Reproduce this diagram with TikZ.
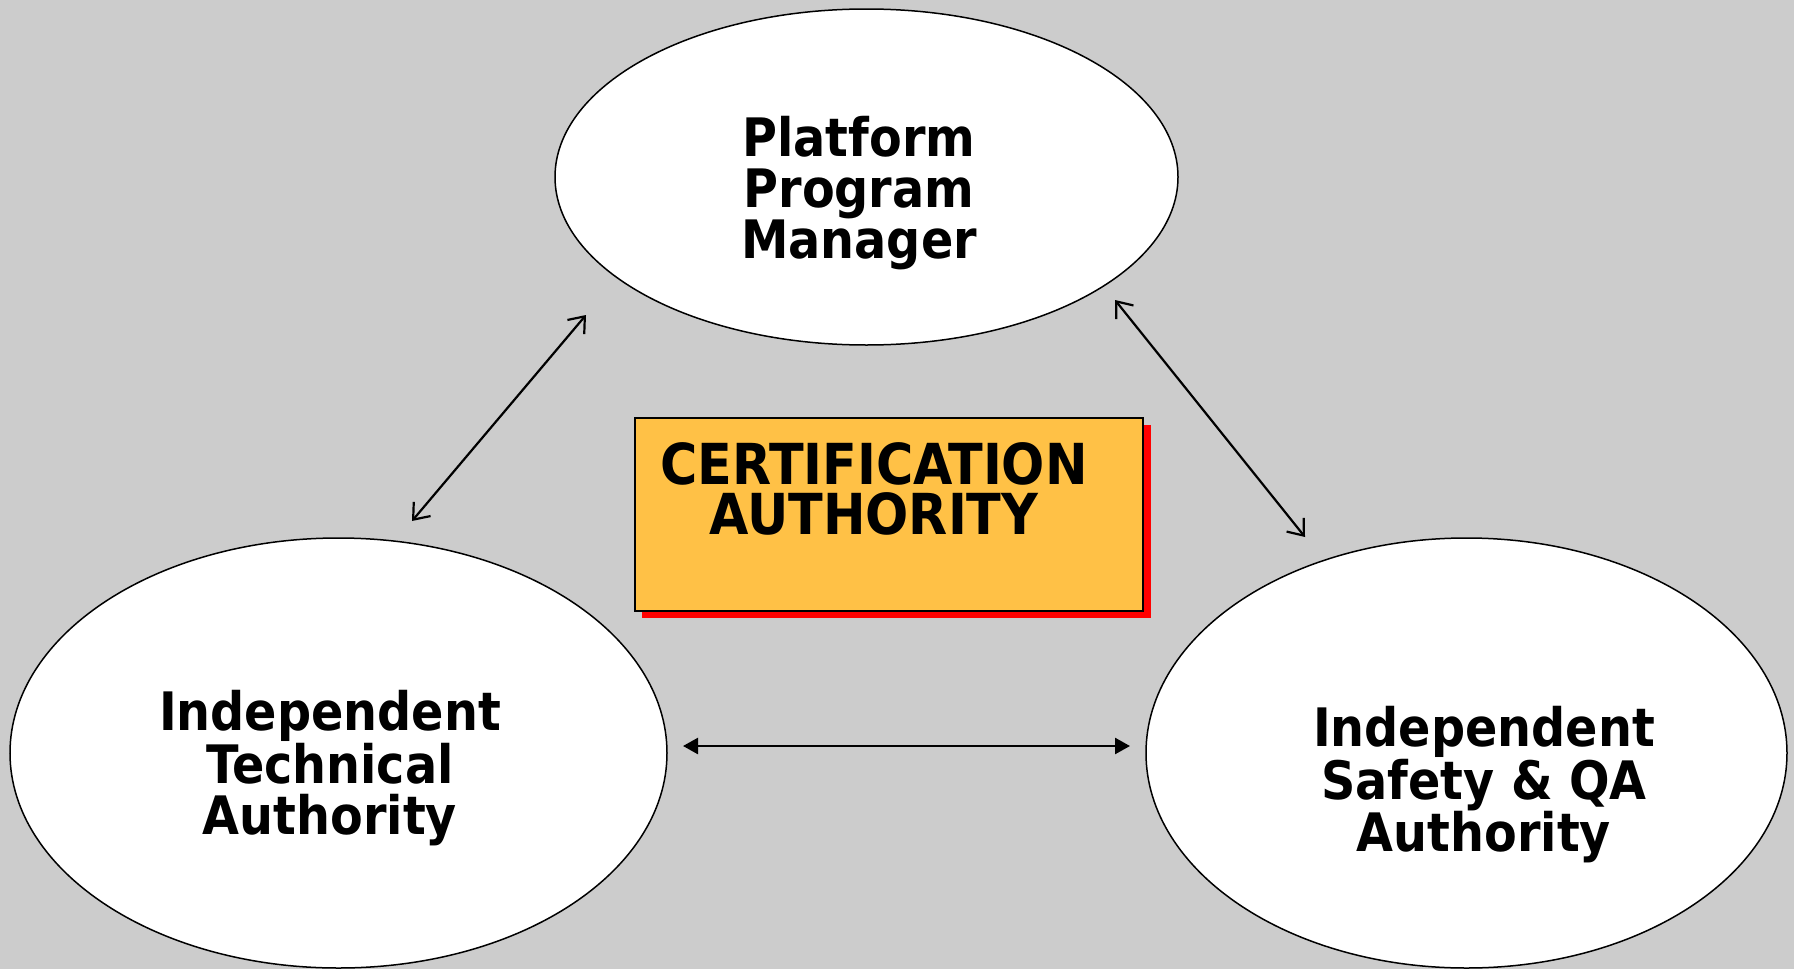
\documentclass[tikz,border=0pt]{standalone}
\usepackage{fontspec}
\setmainfont{DejaVu Sans Condensed}
\usetikzlibrary{arrows.meta,shapes.geometric}
\definecolor{bg}{RGB}{204,204,204}
\definecolor{boxfill}{RGB}{255,193,70}
\definecolor{shadowred}{RGB}{255,0,0}
\tikzset{
  party/.style={ellipse,draw=black,line width=1.5pt,fill=white,inner sep=0pt},
  partytext/.style={align=center,font=\bfseries\fontsize{53}{51}\selectfont,inner sep=0pt},
  barb/.style={line width=2.2pt,{Straight Barb[length=14pt,width=22pt,line width=2.2pt]}-{Straight Barb[length=14pt,width=22pt,line width=2.2pt]}},
  solidhead/.style={line width=2.5pt,{Triangle[length=15pt,width=16pt]}-{Triangle[length=15pt,width=16pt]}},
}
\begin{document}
\begin{tikzpicture}[x=1pt,y=-1pt]
\fill[bg] (0,0) rectangle (1794,969);
\useasboundingbox (0,0) rectangle (1794,969);
% parties
\node[party,minimum width=623pt,minimum height=336pt] (top) at (866.5,177) {};
\node[party,minimum width=657pt,minimum height=430pt] (left) at (338.5,753) {};
\node[party,minimum width=641pt,minimum height=430pt] (right) at (1466.5,753) {};
\node[partytext] (toptext) at (859,193) {Platform\\Program\\Manager};
\node[partytext] (lefttext) at (330,768) {Independent\\Technical\\Authority};
\node[partytext] (righttext) at (1484,785) {Independent\\Safety \& QA\\Authority};
% certification box
\fill[shadowred] (642,425) rectangle (1151,618);
\node[draw=black,line width=2pt,fill=boxfill,minimum width=508pt,minimum height=193pt,inner sep=0pt] (ca) at (889,514.5) {};
\node[align=center,font=\bfseries\fontsize{56.5}{50}\selectfont,inner sep=0pt] (catext) at (874,489) {CERTIFICATION\\AUTHORITY};
% connectors
\coordinate (a1) at (586,315);
\coordinate (a2) at (412,521);
\coordinate (b1) at (1115,300);
\coordinate (b2) at (1305,537);
\coordinate (c1) at (683,746);
\coordinate (c2) at (1130,746);
\draw[barb] (a1) -- (a2);
\draw[barb] (b1) -- (b2);
\draw[solidhead] (c1) -- (c2);
\end{tikzpicture}
\end{document}
